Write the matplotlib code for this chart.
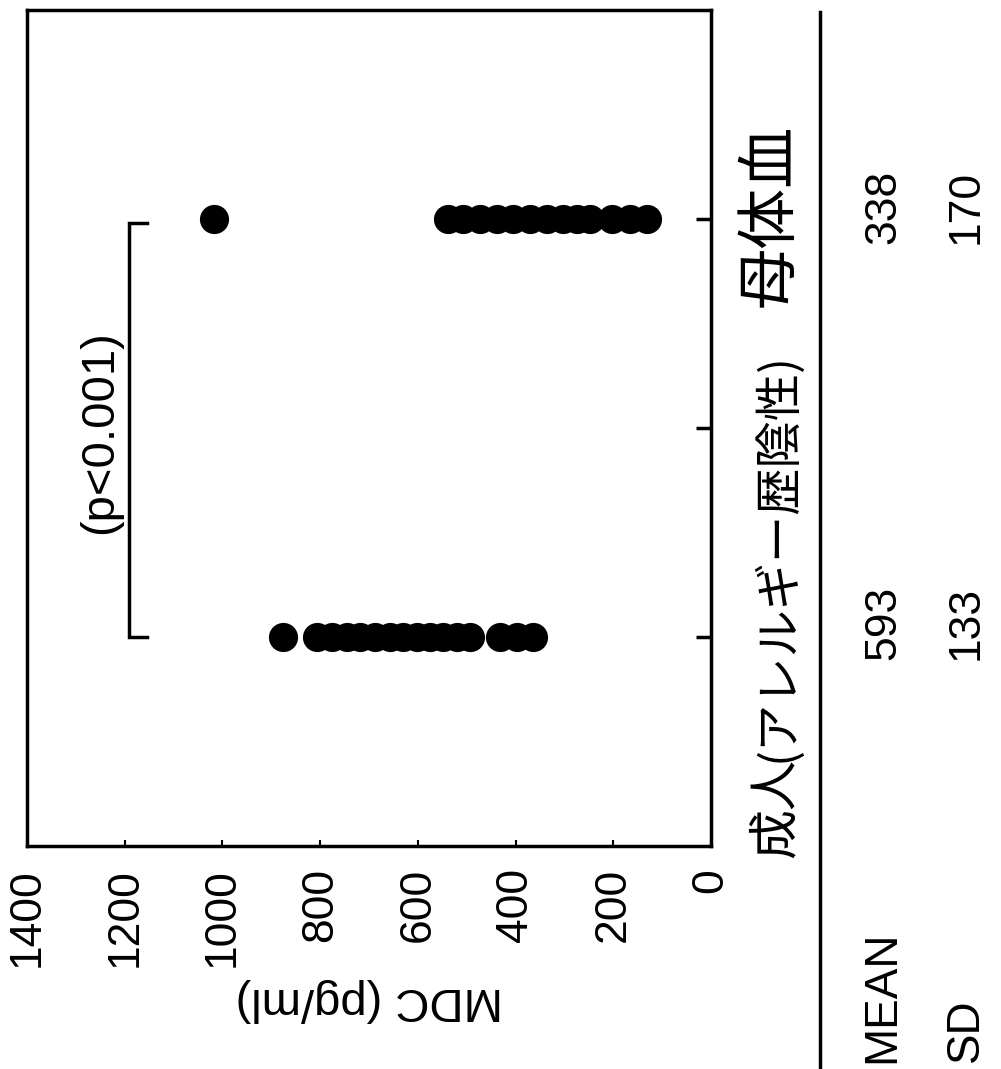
import matplotlib
matplotlib.use("Agg")
import matplotlib.pyplot as plt
from matplotlib import font_manager
from matplotlib.lines import Line2D

categories = ["成人", "母体血"]
category_pos = [0, 2]
adult_mdc = [876, 806, 776, 745, 719, 688, 657, 630, 602, 575, 548, 520, 493, 432, 397, 364]
maternal_mdc = [1017, 538, 507, 473, 438, 405, 370, 336, 303, 274, 248, 202, 166, 131]
mean_values = [593, 338]
sd_values = [133, 170]
value_ticks = [0, 200, 400, 600, 800, 1000, 1200, 1400]
p_text = "(p<0.001)"

# Fonts
names = {f.name for f in font_manager.fontManager.ttflist}
narrow = "Liberation Sans Narrow" if "Liberation Sans Narrow" in names else "Liberation Sans"
regular = "Liberation Sans"
cjk = ["Noto Sans CJK JP", "DejaVu Sans"]
num_size = 37 if narrow != regular else 32

W, H = 1001, 1069
fig = plt.figure(figsize=(W / 100, H / 100), dpi=100)


def fx(px):
    return px / W


def fy(py):
    return 1 - py / H


ax = fig.add_axes([fx(27), fy(846), fx(711) - fx(27), fy(10) - fy(846)])

# dots
ax.plot(adult_mdc, [category_pos[0]] * len(adult_mdc), "o", color="black", ms=21, mew=0)
ax.plot(maternal_mdc, [category_pos[1]] * len(maternal_mdc), "o", color="black", ms=21, mew=0)

# significance bracket
bar_x, stub_x = 1192, 1155
ax.plot([stub_x, bar_x, bar_x, stub_x],
        [category_pos[1] - 0.02, category_pos[1] - 0.02, category_pos[0], category_pos[0]],
        color="black", lw=2.5, solid_joinstyle="miter")
ax.text(1250, 0.98, p_text, rotation=90, ha="center", va="center",
        fontsize=34, family=regular)

ax.set_xlim(1400, 0)
ax.set_ylim(-1, 3)
ax.set_xticks(value_ticks)
ax.set_xticklabels([str(v) for v in value_ticks], rotation=90, family=narrow, fontsize=num_size)
ax.tick_params(axis="x", direction="in", length=4, width=1.5, pad=16)
ax.set_yticks([0, 1, 2])
ax.yaxis.tick_right()
ax.set_yticklabels([])
ax.tick_params(axis="y", direction="in", length=11, width=2.5, right=True, left=False)
for s in ax.spines.values():
    s.set_linewidth(2.5)

ax.set_xlabel("MDC (pg/ml)", rotation=180, family=regular, fontsize=34, labelpad=8)

# category labels (rotated)
fig.text(fx(802), fy(858), categories[0], rotation=90, ha="right", va="bottom",
         fontsize=36, family=cjk)
fig.text(fx(802), fy(762), "(アレルギー歴陰性)", rotation=90, ha="right", va="bottom",
         fontsize=34, family=cjk)
fig.text(fx(802), fy(215), categories[1], rotation=90, ha="right", va="center",
         fontsize=44, family=cjk)

# summary table
fig.add_artist(Line2D([fx(820), fx(820)], [fy(12), 0], color="black", lw=2.5))
fig.text(fx(882), fy(1063), "MEAN", rotation=90, ha="center", va="bottom",
         fontsize=num_size + 1, family=narrow)
fig.text(fx(966), fy(1062), "SD", rotation=90, ha="center", va="bottom",
         fontsize=num_size + 1, family=narrow)
row_y = [623, 207]
for m, s, y in zip(mean_values, sd_values, row_y):
    fig.text(fx(884), fy(y), str(m), rotation=90, ha="center", va="center",
             fontsize=num_size, family=narrow)
    fig.text(fx(966), fy(y), str(s), rotation=90, ha="center", va="center",
             fontsize=num_size, family=narrow)

fig.savefig("out.png", dpi=100)
